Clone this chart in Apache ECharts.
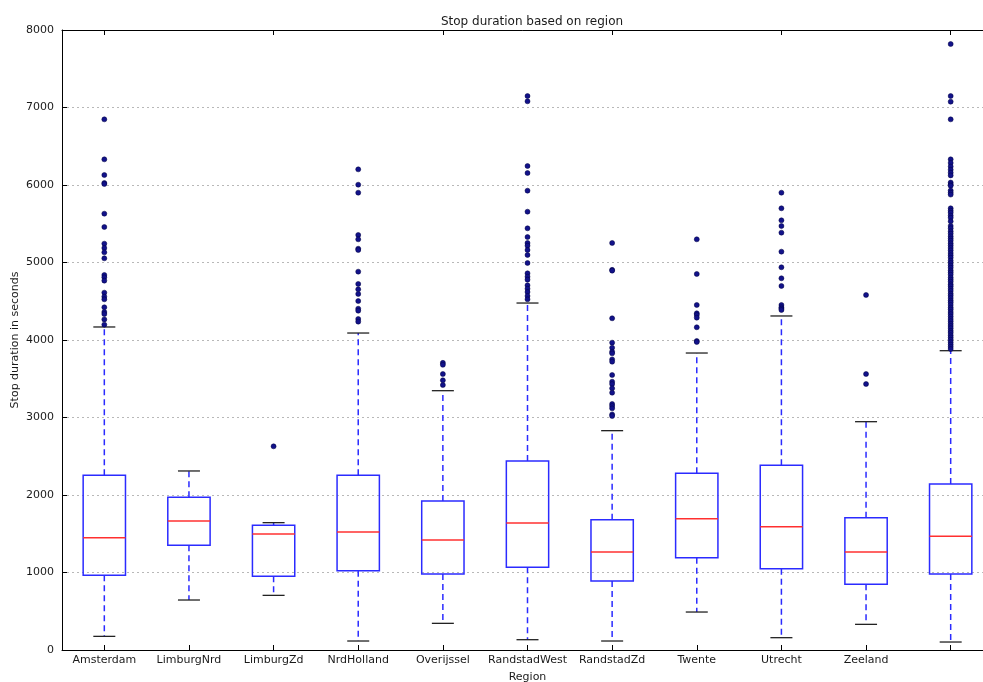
<!DOCTYPE html>
<html>
<head>
<meta charset="utf-8">
<script src="https://cdn.jsdelivr.net/npm/echarts@6/dist/echarts.min.js"></script>
<style>
  html, body { margin: 0; padding: 0; background: #fff; }
  #chart { width: 983px; height: 682px; }
</style>
</head>
<body>
<div id="chart"></div>
<script>
// Regions (the last group has no name on the axis)
const regions = ['Amsterdam', 'LimburgNrd', 'LimburgZd', 'NrdHolland', 'Overijssel',
  'RandstadWest', 'RandstadZd', 'Twente', 'Utrecht', 'Zeeland', ''];

// Five-number summary per region: [lower whisker, Q1, median, Q3, upper whisker]
const whiskerLow  = [176, 645, 705, 116, 344, 133, 116, 490, 159, 331, 103];
const quartile1   = [964, 1351, 951, 1024, 981, 1067, 890, 1191, 1049, 847, 981];
const medians     = [1449, 1665, 1497, 1523, 1419, 1639, 1265, 1695, 1591, 1265, 1467];
const quartile3   = [2254, 1970, 1609, 2254, 1923, 2439, 1682, 2280, 2383, 1707, 2142];
const whiskerHigh = [4168, 2310, 1643, 4090, 3346, 4477, 2830, 3832, 4310, 2946, 3862];

// Outlier stop durations per region (seconds)
const outAmsterdam = [6847, 6331, 6129, 6026, 6013, 5630, 5458, 5243, 5187, 5131, 5054,
  4839, 4809, 4766, 4611, 4559, 4525, 4422, 4361, 4335, 4266, 4198];
const outLimburgNrd = [];
const outLimburgZd = [2628];
const outNrdHolland = [6202, 6004, 5901, 5355, 5299, 5178, 5161, 4882, 4723, 4654, 4594,
  4503, 4404, 4378, 4271, 4237];
const outOverijssel = [3705, 3680, 3561, 3480, 3419];
const outRandstadWest = [7148, 7080, 6245, 6155, 5927, 5656, 5441, 5329, 5252, 5217, 5161,
  5097, 4994, 4860, 4817, 4779, 4705, 4662, 4619, 4568, 4525];
const outRandstadZd = [5252, 4905, 4895, 4280, 3966, 3900, 3849, 3828, 3750, 3720, 3548,
  3462, 3432, 3376, 3320, 3174, 3148, 3118, 3040, 3019];
const outTwente = [5299, 4852, 4452, 4344, 4323, 4288, 4164, 3987, 3974];
const outUtrecht = [5901, 5699, 5544, 5471, 5385, 5140, 4938, 4796, 4697, 4452, 4422,
  4404, 4387];
const outZeeland = [4581, 3561, 3432];
const outOther = [7819, 7148, 7075, 6847, 6331, 6285, 6238, 6196, 6158, 6124, 6032, 6008,
  5990, 5928, 5901, 5876, 5699, 5668, 5641, 5605, 5577, 5531, 5472, 5441, 5403, 5372,
  5338, 5309, 5281, 5247, 5219, 5188, 5157, 5122, 5093, 5061, 5024, 4993, 4961, 4932,
  4898, 4871, 4842, 4806, 4779, 4752, 4718, 4694, 4661, 4633, 4598, 4572, 4541, 4509,
  4483, 4452, 4418, 4393, 4361, 4334, 4302, 4271, 4243, 4209, 4181, 4153, 4118, 4092,
  4061, 4033, 4004, 3972, 3941, 3912, 3884];

const outliers = [outAmsterdam, outLimburgNrd, outLimburgZd, outNrdHolland, outOverijssel,
  outRandstadWest, outRandstadZd, outTwente, outUtrecht, outZeeland, outOther];

const yTicks = [0, 1000, 2000, 3000, 4000, 5000, 6000, 7000, 8000];

const boxData = regions.map((_, i) =>
  [i, whiskerLow[i], quartile1[i], medians[i], quartile3[i], whiskerHigh[i]]);
const outlierData = [];
outliers.forEach((list, i) => list.forEach(v => outlierData.push([i, v])));

const FONT = 'DejaVu Sans';
const BOX_BLUE = '#2b2bff';
const TEXT = '#1a1a1a';

function renderBox(params, api) {
  const idx = api.value(0);
  const band = api.size([1, 0])[0];
  const half = band * 0.25;
  const capHalf = band * 0.13;
  const pLow = api.coord([idx, api.value(1)]);
  const pQ1 = api.coord([idx, api.value(2)]);
  const pMed = api.coord([idx, api.value(3)]);
  const pQ3 = api.coord([idx, api.value(4)]);
  const pHigh = api.coord([idx, api.value(5)]);
  const cx = pMed[0];
  const whiskerStyle = { stroke: BOX_BLUE, lineWidth: 1.5, lineDash: [6, 4] };
  const capStyle = { stroke: '#222', lineWidth: 1.3 };
  return {
    type: 'group',
    children: [
      { type: 'line', shape: { x1: cx, y1: pQ3[1], x2: cx, y2: pHigh[1] }, style: whiskerStyle },
      { type: 'line', shape: { x1: cx, y1: pQ1[1], x2: cx, y2: pLow[1] }, style: whiskerStyle },
      { type: 'line', shape: { x1: cx - capHalf, y1: pHigh[1], x2: cx + capHalf, y2: pHigh[1] }, style: capStyle },
      { type: 'line', shape: { x1: cx - capHalf, y1: pLow[1], x2: cx + capHalf, y2: pLow[1] }, style: capStyle },
      { type: 'rect', shape: { x: cx - half, y: pQ3[1], width: 2 * half, height: pQ1[1] - pQ3[1] },
        style: { fill: 'none', stroke: BOX_BLUE, lineWidth: 1.5 } },
      { type: 'line', shape: { x1: cx - half, y1: pMed[1], x2: cx + half, y2: pMed[1] },
        style: { stroke: '#ff3030', lineWidth: 1.5 } }
    ]
  };
}

const chart = echarts.init(document.getElementById('chart'), null, { renderer: 'canvas' });
chart.setOption({
  animation: false,
  backgroundColor: '#fff',
  title: {
    text: 'Stop duration based on region',
    left: 527,
    textAlign: 'center',
    top: 11,
    textStyle: { fontFamily: FONT, fontSize: 12, fontWeight: 'normal', color: TEXT }
  },
  grid: {
    left: 62, right: -10, top: 30, bottom: 32,
    containLabel: false,
    outerBoundsMode: 'none',
    show: false
  },
  xAxis: [{
    type: 'category',
    data: regions,
    boundaryGap: true,
    name: 'Region',
    nameLocation: 'middle',
    nameGap: 22,
    nameMoveOverlap: false,
    nameTextStyle: { fontFamily: FONT, fontSize: 11, color: TEXT },
    axisLine: { show: true, lineStyle: { color: '#000' } },
    axisTick: { show: true, inside: true, alignWithLabel: true, length: 5, lineStyle: { color: '#000' } },
    axisLabel: { fontFamily: FONT, fontSize: 11, color: TEXT, margin: 5, interval: 0 },
    splitLine: { show: false }
  }, {
    type: 'category',
    data: regions,
    position: 'top',
    boundaryGap: true,
    axisLine: { show: true, lineStyle: { color: '#000' } },
    axisTick: { show: true, inside: true, alignWithLabel: true, length: 5, lineStyle: { color: '#000' } },
    axisLabel: { show: false },
    splitLine: { show: false }
  }],
  yAxis: {
    type: 'value',
    min: yTicks[0],
    max: yTicks[yTicks.length - 1],
    interval: 1000,
    name: 'Stop duration in seconds',
    nameLocation: 'middle',
    nameGap: 41,
    nameMoveOverlap: false,
    nameTextStyle: { fontFamily: FONT, fontSize: 11, color: TEXT },
    axisLine: { show: true, lineStyle: { color: '#000' } },
    axisTick: { show: true, inside: true, length: 5, lineStyle: { color: '#000' } },
    axisLabel: { fontFamily: FONT, fontSize: 11, color: TEXT, margin: 8, formatter: v => String(v) },
    splitLine: { show: true, lineStyle: { color: '#b8b8b8', type: [2, 3], width: 1 } }
  },
  series: [{
    type: 'custom',
    renderItem: renderBox,
    data: boxData,
    encode: { x: 0, y: [1, 2, 3, 4, 5] },
    z: 2
  }, {
    type: 'scatter',
    data: outlierData,
    symbol: 'circle',
    symbolSize: 5,
    itemStyle: { color: '#12128a', borderColor: '#000040', borderWidth: 0.5, opacity: 1 },
    z: 3
  }]
});
</script>
</body>
</html>
